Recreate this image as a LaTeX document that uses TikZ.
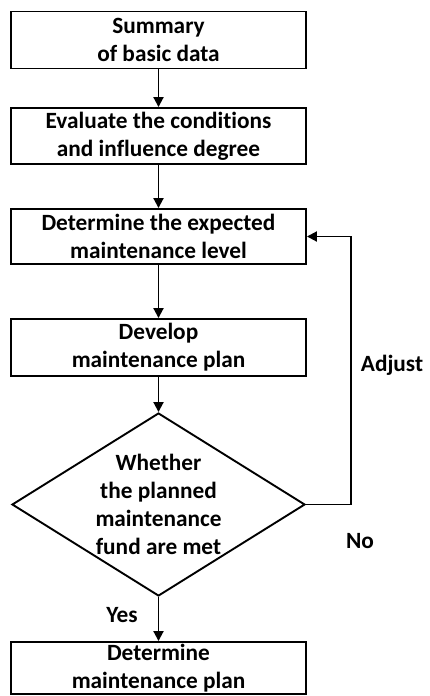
\documentclass[tikz,border=0pt]{standalone}
\usepackage{fontspec}
\setmainfont{Carlito}[Ligatures=NoCommon]
\usetikzlibrary{arrows.meta,shapes.geometric}
\begin{document}
\begin{tikzpicture}[x=1pt,y=-1pt,
  every node/.style={font=\fontsize{23.3}{28}\selectfont\bfseries},
  stepbox/.style={draw,line width=1.9pt,minimum width=295pt,inner sep=0pt,align=center},
  conn/.style={line width=1.9pt,-{Triangle[length=10pt,width=10pt]}},
  lbl/.style={inner sep=0pt}]
\useasboundingbox (0,0) rectangle (430,696);
\node[stepbox,minimum height=57pt] (b1) at (158.5,40) {Summary\\of basic data};
\node[stepbox,minimum height=56pt] (b2) at (158.5,136) {Evaluate the conditions\\and influence degree};
\node[stepbox,minimum height=55pt] (b3) at (158.5,236.5) {Determine the expected\\maintenance level};
\node[stepbox,minimum height=57pt] (b4) at (158.5,347.5) {Develop\\maintenance plan};
\node[draw,diamond,line width=1.9pt,minimum width=293pt,minimum height=183pt,inner sep=0pt,aspect=1.6] (d) at (158.5,504.5) {};
\node[lbl,align=center] (dt) at (158.5,504) {Whether\\the planned\\maintenance\\fund are met};
\node[stepbox,minimum height=52pt] (b5) at (158.5,668) {Determine\\maintenance plan};
\coordinate (c1) at (351,504.5);
\coordinate (c2) at (351,236.5);
\draw[conn] (b1) -- (b2);
\draw[conn] (b2) -- (b3);
\draw[conn] (b3) -- (b4);
\draw[conn] (b4) -- (d);
\draw[conn] (d) -- (b5);
\draw[conn] (d.east) -- (c1) -- (c2) -- (b3.east);
\node[lbl] (adj) at (392,365) {Adjust};
\node[lbl] (no) at (360,541) {No};
\node[lbl] (yes) at (122,615) {Yes};
\end{tikzpicture}
\end{document}
